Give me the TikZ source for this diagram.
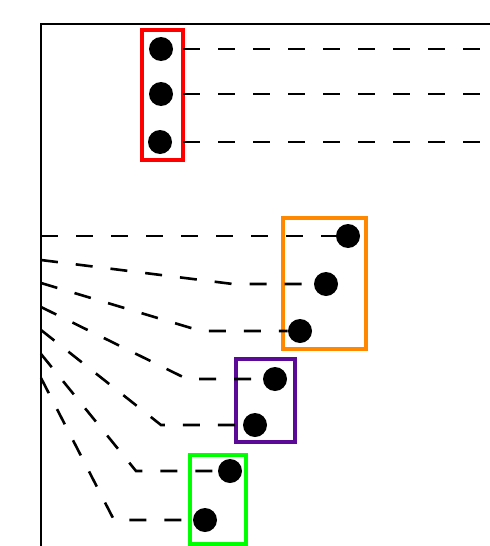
\documentclass[tikz,border=0pt]{standalone}
\usepackage{tikz}
\definecolor{rd}{HTML}{FF0000}
\definecolor{og}{HTML}{FF8800}
\definecolor{pu}{HTML}{5A0A96}
\definecolor{gr}{HTML}{00FF00}

\begin{document}
\begin{tikzpicture}[x=0.5pt,y=-0.5pt,
    dot/.style={circle,fill=black,inner sep=0pt,minimum size=12pt},
    grp/.style={draw=#1,line width=2pt,inner sep=0pt,outer sep=0pt},
    link/.style={line width=1.3pt,dash pattern=on 8.5pt off 9pt}]
  \useasboundingbox (0,0) rectangle (490,546);

  % frame: left edge and top edge, both run off the page
  \coordinate (corner) at (41,24);
  \coordinate (edge) at (490,24);
  \draw[line width=1.4pt] (41,546) -- (corner) -- (edge);

  % groups, one box each
  \node[grp=rd,minimum width=20.5pt,minimum height=65pt] (top) at (162.5,95) {};
  \node[grp=og,minimum width=41.5pt,minimum height=65.5pt] (mid) at (324.5,283.5) {};
  \node[grp=pu,minimum width=29.5pt,minimum height=41.5pt] (low) at (265.5,400) {};
  \node[grp=gr,minimum width=28pt,minimum height=44.5pt] (bot) at (218,499) {};

  % dots
  \node[dot] (a1) at (161,49) {};
  \node[dot] (a2) at (161,94) {};
  \node[dot] (a3) at (160,142) {};
  \node[dot] (b1) at (348,236) {};
  \node[dot] (b2) at (326,284) {};
  \node[dot] (b3) at (300,331) {};
  \node[dot] (c1) at (275,379) {};
  \node[dot] (c2) at (255,425) {};
  \node[dot] (d1) at (230,471) {};
  \node[dot] (d2) at (205,520) {};

  % top rows leave the box to the right
  \foreach \n in {a1,a2,a3}
    \draw[link] (\n -| top.east) -- (\n -| edge);

  % fan from the left edge, bend, then flat into each dot
  \foreach \y [count=\i] in {236,260,283,307,330,354,378}
    \coordinate (s\i) at (41,\y);
  \coordinate (k2) at (233,284);
  \coordinate (k3) at (201,331);
  \coordinate (k4) at (187,379);
  \coordinate (k5) at (161,425);
  \coordinate (k6) at (136,471);
  \coordinate (k7) at (114,520);
  \draw[link] (s1) -- (b1);
  \draw[link] (s2) -- (k2) -- (b2);
  \draw[link] (s3) -- (k3) -- (b3);
  \draw[link] (s4) -- (k4) -- (c1);
  \draw[link] (s5) -- (k5) -- (c2);
  \draw[link] (s6) -- (k6) -- (d1);
  \draw[link] (s7) -- (k7) -- (d2);
\end{tikzpicture}
\end{document}
